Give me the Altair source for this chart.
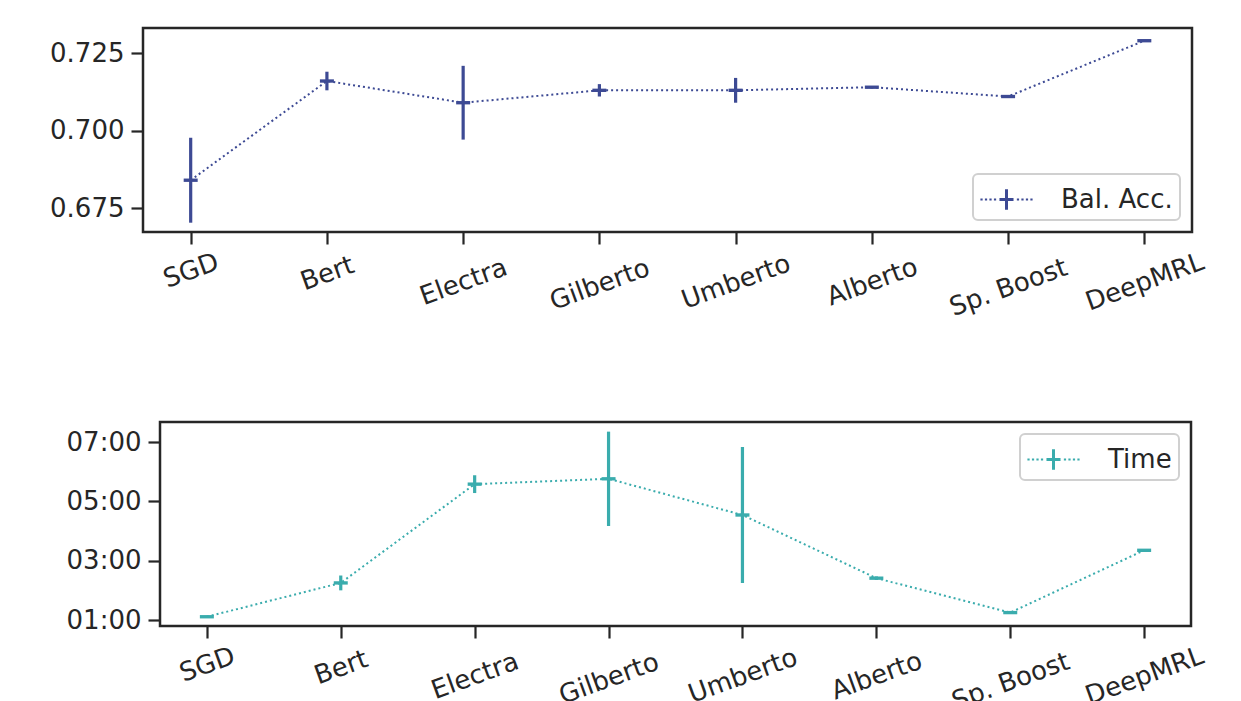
import altair as alt
import pandas as pd

# ---- data ----
models = ["SGD", "Bert", "Electra", "Gilberto", "Umberto", "Alberto", "Sp. Boost", "DeepMRL"]
acc_mean = [0.684, 0.716, 0.709, 0.713, 0.713, 0.714, 0.711, 0.729]
acc_err = [0.0137, 0.003, 0.0119, 0.002, 0.004, 0.0004, 0.0003, 0.0003]
time_mean = [1.11, 2.25, 5.58, 5.76, 4.54, 2.41, 1.25, 3.35]   # minutes
time_err = [0.03, 0.25, 0.30, 1.59, 2.29, 0.06, 0.03, 0.03]
acc_ticks = [0.675, 0.700, 0.725]
time_ticks = [1, 3, 5, 7]
acc_label = "Bal. Acc."
time_label = "Time"

ACC_COLOR = "#3d4a94"
TIME_COLOR = "#3aacad"
TEXT = "#262626"
FONT = "DejaVu Sans"
FS = 26

# horizontal dash marker (matplotlib "_")
DASH = "M-1,-0.24H1V0.24H-1Z"


# legend handle: dotted line + cross (extends beyond the nominal symbol box in x)
def legend_path():
    parts = ["M-0.081,-0.56H0.081V0.56H-0.081Z", "M-0.38,-0.081H0.38V0.081H-0.38Z"]
    h = 0.06
    for c in [-1.35, -1.107, -0.864, -0.62, 0.62, 0.864, 1.107, 1.35]:
        parts.append(f"M{c-h:.3f},{-h:.3f}H{c+h:.3f}V{h:.3f}H{c-h:.3f}Z")
    return " ".join(parts)


LEG = legend_path()


def make_df(mean, err, label):
    df = pd.DataFrame({"model": models, "mean": mean, "err": err})
    df["lo"] = df["mean"] - df["err"]
    df["hi"] = df["mean"] + df["err"]
    df["series"] = label
    return df


def panel(df, label, color, domain, yaxis, width, legend_orient):
    xaxis = alt.Axis(
        title=None, labelAngle=-20, labelAlign="center", labelBaseline="middle",
        labelPadding=alt.ExprRef(expr="18 + 2.8*length(datum.label)"),
    )
    base = alt.Chart(df).encode(
        x=alt.X("model:N", sort=models, scale=alt.Scale(type="point", padding=0.35), axis=xaxis)
    )
    yscale = alt.Scale(domain=domain, nice=False, zero=False)
    line = base.mark_line(color=color, strokeDash=[2, 3], strokeWidth=2).encode(
        y=alt.Y("mean:Q", scale=yscale, axis=yaxis)
    )
    err = base.mark_rule(color=color, strokeWidth=3.2).encode(y="lo:Q", y2="hi:Q")
    marker = base.mark_point(filled=True, shape=DASH, size=196, opacity=1, strokeWidth=0).encode(
        y="mean:Q",
        color=alt.Color(
            "series:N",
            scale=alt.Scale(domain=[label], range=[color]),
            legend=alt.Legend(
                title=None, orient=legend_orient, offset=12, padding=7,
                fillColor="white", strokeColor="#d0d0d0", cornerRadius=5,
                labelFontSize=FS, labelFont=FONT, labelColor=TEXT, labelOffset=36,
                symbolType=LEG, symbolSize=37 * 37, symbolOffset=8,
                symbolStrokeWidth=0, symbolOpacity=1,
            ),
        ),
    )
    return alt.layer(line, err, marker).properties(width=width, height=204)


acc_axis = alt.Axis(title=None, values=acc_ticks, format=".3f", labelPadding=7)
time_axis = alt.Axis(
    title=None, values=time_ticks, labelPadding=7,
    labelExpr="pad(toString(floor(datum.value)), 2, '0', 'left') + ':' + pad(toString(round((datum.value - floor(datum.value)) * 60)), 2, '0', 'left')",
)

top = panel(make_df(acc_mean, acc_err, acc_label), acc_label, ACC_COLOR,
            [0.6673, 0.7331], acc_axis, 1049, "bottom-right")
bottom = panel(make_df(time_mean, time_err, time_label), time_label, TIME_COLOR,
               [0.798, 7.675], time_axis, 1031, "top-right")


# empty spacers: the lower panel sits a little further right, as in the reference
def spacer(w):
    return alt.Chart(pd.DataFrame({"a": [0]})).mark_point(opacity=0).encode(
        x=alt.value(0), y=alt.value(0)
    ).properties(width=w, height=204, view=alt.ViewBackground(strokeOpacity=0, strokeWidth=0))


top_row = alt.hconcat(spacer(1), top, spacing=0).resolve_scale(
    color="independent").resolve_legend(color="independent")
bottom_row = alt.hconcat(spacer(19), bottom, spacing=0).resolve_scale(
    color="independent").resolve_legend(color="independent")

chart = alt.vconcat(top_row, bottom_row, spacing=97).properties(
    padding={"left": 34, "top": 17, "right": 5, "bottom": 5},
    background="white",
).resolve_scale(
    color="independent"
).resolve_legend(
    color="independent"
).configure_view(
    stroke=TEXT, strokeWidth=2.5
).configure_axis(
    labelFont=FONT, labelFontSize=FS, labelColor=TEXT, tickColor=TEXT, tickWidth=2.2,
    tickSize=12, domain=False, grid=False,
).configure_legend(
    strokeWidth=2
)

chart.save("out.html", embed_options={"renderer": "svg", "actions": False})
